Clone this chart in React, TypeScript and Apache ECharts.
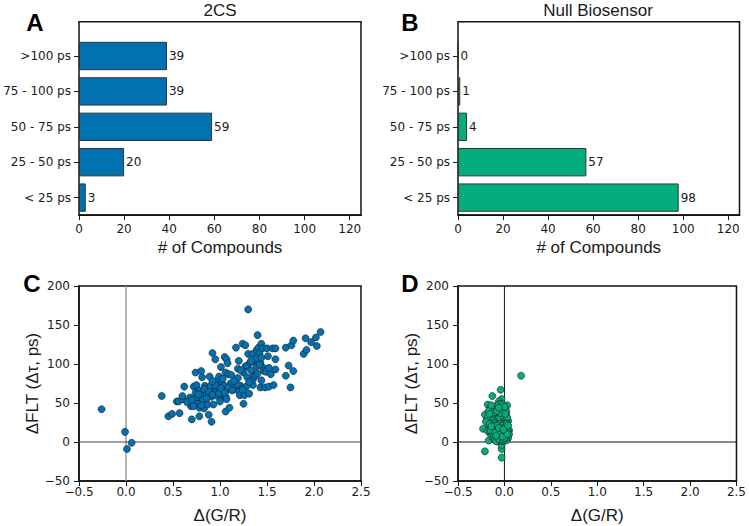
import React, { useEffect, useRef } from "react";
import * as echarts from "echarts";

const CATEGORIES = ["< 25 ps", "25 - 50 ps", "50 - 75 ps", "75 - 100 ps", ">100 ps"];
const COUNTS_2CS = [3, 20, 59, 39, 39];
const COUNTS_NULL = [98, 57, 4, 1, 0];
const BAR_TICKS = [0, 20, 40, 60, 80, 100, 120];
const BAR_MAX = 125;
const X_RANGE = [-0.5, 2.5];
const Y_RANGE = [-50, 200];

const SCATTER_2CS: number[][] = [
  [-0.26, 42], [-0.01, 13], [0.01, -9], [0.06, -1],
  [0.38, 59], [0.45, 33], [0.49, 36], [0.54, 52], [0.56, 52], [0.57, 37], [0.6, 55], [0.6, 59],
  [0.62, 71], [0.68, 57], [0.69, 46], [0.7, 29], [0.71, 49], [0.72, 71], [0.74, 89], [0.75, 73],
  [0.74, 63], [0.76, 57], [0.77, 49], [0.78, 44], [0.78, 33], [0.78, 66], [0.8, 91], [0.81, 83],
  [0.8, 60], [0.82, 54], [0.83, 43], [0.84, 72], [0.86, 62], [0.87, 48], [0.88, 35], [0.89, 84],
  [0.9, 72], [0.91, 26], [0.91, 58], [0.92, 114], [0.93, 65], [0.94, 76], [0.95, 106], [0.96, 68],
  [0.97, 59], [0.97, 79], [0.98, 71], [0.99, 84], [1.0, 52], [1.0, 65], [1.01, 96], [1.02, 75],
  [1.03, 60], [1.04, 72], [1.05, 109], [1.06, 89], [1.06, 58], [1.06, 39], [1.07, 106], [1.08, 101],
  [1.08, 67], [1.09, 87], [1.1, 44], [1.11, 75], [1.16, 68], [1.17, 121], [1.19, 94], [1.19, 82],
  [1.2, 65], [1.21, 60], [1.22, 72], [1.24, 126], [1.25, 89], [1.25, 49], [1.26, 60], [1.27, 124],
  [1.27, 97], [1.28, 71], [1.29, 83], [1.29, 98], [1.3, 170], [1.3, 113], [1.32, 102], [1.35, 113],
  [1.35, 73], [1.35, 80], [1.36, 87], [1.37, 103], [1.38, 107], [1.39, 97], [1.39, 118], [1.4, 137],
  [1.41, 121], [1.42, 114], [1.43, 101], [1.43, 70], [1.44, 126], [1.45, 120], [1.46, 95], [1.47, 91],
  [1.48, 70], [1.49, 90], [1.5, 120], [1.51, 110], [1.52, 71], [1.54, 87], [1.56, 120], [1.57, 73],
  [1.59, 120], [1.59, 93], [1.59, 106], [1.7, 85], [1.7, 121], [1.73, 98], [1.75, 70], [1.76, 124],
  [1.78, 130], [1.78, 91], [1.89, 113], [1.91, 133], [1.92, 118], [1.97, 128], [2.02, 134], [2.03, 123],
  [2.07, 141],
  [0.72, 46], [0.8, 47], [0.93, 48],
  [0.65, 51], [0.7, 54], [0.77, 61], [0.83, 68], [0.88, 64], [0.92, 61], [0.95, 73], [0.99, 62],
  [1.01, 69], [1.05, 63], [1.07, 55], [1.09, 70], [1.13, 66], [1.18, 74], [1.24, 67], [1.31, 62], [0.86, 56],
  [0.92, 78], [1.03, 81], [1.12, 86], [1.15, 78], [1.22, 92], [1.31, 77], [1.33, 92], [1.38, 85],
  [1.42, 99], [1.44, 79], [1.52, 95], [1.4, 88],
  [1.33, 104], [1.44, 108], [1.2, 104],
];

const SCATTER_NULL: number[][] = [
  [-0.04, 67], [-0.13, 59], [-0.03, 55], [-0.06, 52], [0.18, 85],
  [-0.18, 48], [0.03, 47], [-0.21, 35], [-0.15, 44], [-0.12, 41], [-0.09, 46], [-0.05, 49], [-0.02, 45],
  [0.01, 42], [-0.14, 38], [-0.1, 36], [-0.07, 39], [-0.04, 43], [-0.01, 38], [0.02, 35], [-0.16, 32],
  [-0.12, 30], [-0.08, 33], [-0.05, 35], [-0.02, 31], [0.01, 29], [0.04, 27], [-0.19, 28], [-0.13, 26],
  [-0.09, 28], [-0.06, 27], [-0.03, 26], [0.0, 33], [-0.11, 44], [-0.07, 47], [-0.17, 40], [-0.03, 40],
  [-0.1, 31], [-0.15, 27], [-0.05, 30], [0.02, 39], [-0.08, 42], [-0.13, 34], [-0.01, 27], [-0.06, 37],
  [-0.18, 31], [-0.04, 33], [-0.11, 38], [0.03, 31], [-0.09, 26], [-0.14, 47], [-0.02, 48], [-0.07, 29],
  [-0.16, 36], [0.0, 45], [-0.12, 28], [-0.04, 37], [-0.08, 40], [-0.2, 26], [0.01, 36], [-0.06, 44], [-0.1, 26],
  [-0.23, 17], [-0.21, -12], [-0.03, -20], [-0.03, -9], [-0.03, -4], [0.05, 15], [-0.17, 2],
  [-0.15, 22], [-0.12, 20], [-0.09, 23], [-0.06, 21], [-0.03, 24], [0.0, 22], [0.03, 20], [-0.14, 17],
  [-0.11, 15], [-0.08, 18], [-0.05, 16], [-0.02, 19], [0.01, 17], [0.04, 13],
  [-0.13, 12], [-0.1, 10], [-0.07, 13], [-0.04, 11], [-0.01, 14], [0.02, 12], [0.05, 10], [-0.12, 7],
  [-0.09, 5], [-0.06, 8], [-0.03, 6], [0.0, 9], [0.03, 7], [-0.11, 3],
  [-0.08, 2], [-0.05, 4], [-0.02, 1], [0.01, 3], [-0.16, 19], [-0.13, 21], [-0.1, 24], [-0.07, 22],
  [-0.04, 20], [-0.01, 23], [0.02, 24], [-0.18, 14], [-0.15, 11], [-0.12, 14],
  [-0.09, 16], [-0.06, 13], [-0.03, 15], [0.0, 13], [0.03, 16], [-0.14, 8], [-0.11, 6], [-0.08, 9],
  [-0.05, 7], [-0.02, 10], [0.01, 8], [0.04, 5], [-0.07, 1], [-0.04, 2],
  [-0.01, 5], [0.02, 2], [-0.16, 23], [-0.1, 19], [-0.05, 23], [-0.02, 21], [0.01, 19], [-0.13, 16],
  [-0.08, 14], [-0.04, 17], [0.0, 18], [0.03, 23], [-0.12, 10], [-0.07, 11],
  [-0.03, 9], [0.01, 11], [-0.09, 1], [-0.06, 4], [-0.01, 3], [0.02, 6], [-0.15, 15], [-0.11, 21],
  [-0.07, 17], [-0.03, 13], [0.0, 5], [-0.1, 12], [-0.05, 10], [-0.02, 7],
  [0.03, 10], [-0.08, 21], [-0.14, 20], [-0.06, 18], [-0.01, 16], [0.04, 21], [-0.09, 8],
];

const BLUE = "#0072B2";
const GREEN = "#06AD7C";
const TICK_FONT = "DejaVu Sans";
const NAME_FONT = "Liberation Sans";
const INK = "#1a1a1a";

const minus = (s: string) => s.replace(/-/g, "\u2212");

export default function App() {
  const ref = useRef<HTMLDivElement>(null);
  useEffect(() => {
    if (!ref.current) return;
    const chart = echarts.init(ref.current, null, { renderer: "svg" });

    const gA = { left: 79, width: 282 };
    const gB = { left: 458, width: 281.5 };
    const frameTop = 21.7, frameH = 193.5;
    const barsTop = 38.3, barsH = 177;
    const scTop = 286, scH = 195;

    const frameGrid = (g: any) => ({ ...g, top: frameTop, height: frameH, show: true, borderColor: "#111", borderWidth: 1.5, backgroundColor: "transparent", containLabel: false });
    const barGrid = (g: any) => ({ ...g, top: barsTop, height: barsH, show: false, containLabel: false });
    const scGrid = (g: any) => ({ ...g, top: scTop, height: scH, show: true, borderColor: "#111", borderWidth: 1.5, backgroundColor: "transparent", containLabel: false });

    const tickLabel = { fontFamily: TICK_FONT, fontSize: 12, color: INK };
    const nameStyle = { fontFamily: NAME_FONT, fontSize: 17, color: INK };

    const countAxisVisible = (gi: number) => ({
      type: "value", gridIndex: gi, min: 0, max: BAR_MAX,
      splitLine: { show: false },
      axisLine: { show: true, lineStyle: { color: "#111", width: 1.5 } },
      axisTick: { show: true, length: 5, customValues: BAR_TICKS, lineStyle: { color: INK, width: 1 } },
      axisLabel: { ...tickLabel, margin: 8, customValues: BAR_TICKS },
      name: "# of Compounds", nameLocation: "middle", nameGap: 24, nameTextStyle: nameStyle,
    });
    const hiddenCount = (gi: number) => ({ type: "value", gridIndex: gi, min: 0, max: BAR_MAX, show: false });
    const hiddenY = (gi: number) => ({ type: "value", gridIndex: gi, min: 0, max: 1, show: false });
    const catAxis = (gi: number) => ({
      type: "category", gridIndex: gi, data: CATEGORIES,
      axisLine: { show: false },
      axisTick: { show: true, length: 5, alignWithLabel: true, lineStyle: { color: INK, width: 1 } },
      axisLabel: { ...tickLabel, margin: 8 },
      splitLine: { show: false },
    });
    const scX = (gi: number) => ({
      type: "value", gridIndex: gi, min: X_RANGE[0], max: X_RANGE[1], interval: 0.5,
      splitLine: { show: false },
      axisLine: { show: true, onZero: false, lineStyle: { color: "#111", width: 1.5 } },
      axisTick: { show: true, length: 5, lineStyle: { color: INK, width: 1 } },
      axisLabel: { ...tickLabel, margin: 5, formatter: (v: number) => minus(v.toFixed(1)) },
      name: "\u0394(G/R)", nameLocation: "middle", nameGap: 26, nameTextStyle: nameStyle,
    });
    const scY = (gi: number) => ({
      type: "value", gridIndex: gi, min: Y_RANGE[0], max: Y_RANGE[1], interval: 50,
      splitLine: { show: false },
      axisLine: { show: true, onZero: false, lineStyle: { color: "#111", width: 1.5 } },
      axisTick: { show: true, length: 5, lineStyle: { color: INK, width: 1 } },
      axisLabel: { ...tickLabel, margin: 9, formatter: (v: number) => minus(String(v)) },
      name: "\u0394FLT (\u0394\u03c4, ps)", nameLocation: "middle", nameGap: 36, nameTextStyle: nameStyle,
    });

    const barSeries = (xi: number, yi: number, data: number[], color: string) => ({
      type: "bar", xAxisIndex: xi, yAxisIndex: yi, data, barWidth: "80%",
      itemStyle: { color, borderColor: "#333", borderWidth: 1 },
      label: { show: true, position: "right", distance: 2, fontFamily: TICK_FONT, fontSize: 12, color: INK },
    });
    const refLine = (xi: number, pts: number[][], color: string, width: number) => ({
      type: "line", xAxisIndex: xi, yAxisIndex: xi, data: pts, symbol: "none", silent: true,
      lineStyle: { color, width }, z: 1,
    });
    const scatter = (xi: number, data: number[][], color: string) => ({
      type: "scatter", xAxisIndex: xi, yAxisIndex: xi, data, symbol: "circle", symbolSize: 7,
      itemStyle: { color, borderColor: "#1a1a1a", borderWidth: 0.6, opacity: 1 }, z: 3,
    });

    const letter = (t: string, x: number, y: number) => ({
      type: "text", x, y,
      style: { text: t, font: 'bold 24px "Liberation Sans"', fill: "#000", align: "center", verticalAlign: "middle" },
    });
    const title = (t: string, x: number, y: number) => ({
      type: "text", x, y,
      style: { text: t, font: '17px "Liberation Sans"', fill: INK, align: "center", verticalAlign: "middle" },
    });

    chart.setOption({
      animation: false,
      backgroundColor: "#fff",
      grid: [frameGrid(gA), barGrid(gA), frameGrid(gB), barGrid(gB), scGrid(gA), scGrid(gB)],
      xAxis: [countAxisVisible(0), hiddenCount(1), countAxisVisible(2), hiddenCount(3), scX(4), scX(5)],
      yAxis: [hiddenY(0), catAxis(1), hiddenY(2), catAxis(3), scY(4), scY(5)],
      series: [
        barSeries(1, 1, COUNTS_2CS, BLUE),
        barSeries(3, 3, COUNTS_NULL, GREEN),
        refLine(4, [[0, Y_RANGE[0]], [0, Y_RANGE[1]]], "#9a9a9a", 1.5),
        refLine(4, [[X_RANGE[0], 0], [X_RANGE[1], 0]], "#444", 1),
        scatter(4, SCATTER_2CS, BLUE),
        refLine(5, [[0, Y_RANGE[0]], [0, Y_RANGE[1]]], "#111", 1),
        refLine(5, [[X_RANGE[0], 0], [X_RANGE[1], 0]], "#111", 1),
        scatter(5, SCATTER_NULL, GREEN),
      ],
      graphic: [
        title("2CS", 220, 10),
        title("Null Biosensor", 598, 10),
        letter("A", 35, 22),
        letter("B", 410, 22),
        letter("C", 32, 283),
        letter("D", 410, 283),
      ],
    });
    return () => chart.dispose();
  }, []);
  return (
    <div
      ref={ref}
      style={{ position: "fixed", left: 0, top: 0, width: 749, height: 526, background: "#fff" }}
    />
  );
}
